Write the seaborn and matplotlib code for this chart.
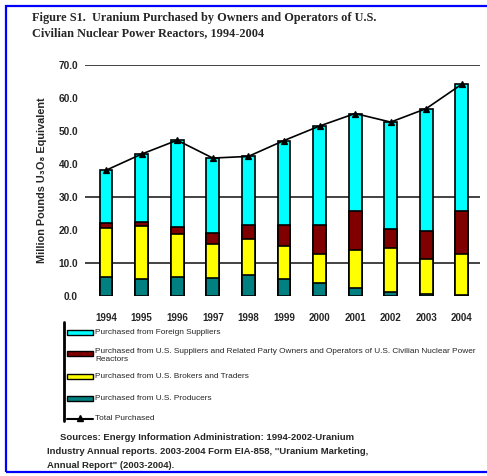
import numpy as np
import seaborn as sns
import matplotlib.pyplot as plt
from matplotlib.patches import Rectangle
from matplotlib.lines import Line2D

# ------------------------------------------------------------
# Data (million pounds U3O8 equivalent)
# ------------------------------------------------------------
years = ["1994", "1995", "1996", "1997", "1998", "1999",
         "2000", "2001", "2002", "2003", "2004"]
us_producers = [5.8, 5.3, 5.8, 5.5, 6.3, 5.3, 3.8, 2.5, 1.2, 0.7, 0.2]
us_brokers = [14.9, 15.9, 13.0, 10.2, 10.9, 9.8, 8.8, 11.4, 13.4, 10.4, 12.5]
us_other = [1.5, 1.1, 2.0, 3.3, 4.3, 6.4, 8.9, 11.9, 5.7, 8.6, 13.1]
foreign = [15.9, 20.7, 26.4, 22.8, 20.8, 25.6, 30.0, 29.5, 32.4, 37.1, 38.4]

legend_labels = [
    "Purchased from Foreign Suppliers",
    "Purchased from U.S. Suppliers and Related Party Owners and Operators of U.S. Civilian Nuclear Power\nReactors",
    "Purchased from U.S. Brokers and Traders",
    "Purchased from U.S. Producers",
    "Total Purchased",
]
colors = ["#00FFFF", "#800000", "#FFFF00", "#008080"]

# cumulative levels for the stacked bars
lvl1 = np.array(us_producers)
lvl2 = lvl1 + np.array(us_brokers)
lvl3 = lvl2 + np.array(us_other)
total = lvl3 + np.array(foreign)

sns.set_style("white")
plt.rcParams["font.family"] = ["Liberation Sans", "DejaVu Sans"]

W, H = 487, 476
fig = plt.figure(figsize=(W / 100, H / 100), dpi=100)
ax = fig.add_axes([85 / W, 1 - 296 / H, 395 / W, 231 / H])

def fx(px):
    return px / W

def fy(py):
    return 1 - py / H

# gridlines that show in the original
for g in [10, 30, 70]:
    ax.axhline(g, color="#222222", lw=1.2, zorder=0)

# stacked bars: tallest first, then overlay the lower stacks
for lvl, c in zip([total, lvl3, lvl2, lvl1], colors):
    sns.barplot(x=years, y=lvl, color=c, edgecolor="black", linewidth=1.2,
                width=0.36, saturation=1, ax=ax, zorder=2)

sns.pointplot(x=years, y=total, color="black", markers="^", linestyles="-",
              errorbar=None, markersize=5, linewidth=1.2, ax=ax, zorder=5)

ax.set_xlim(-0.59, 10.51)
ax.set_ylim(0, 70)
ax.set_yticks(np.arange(0, 71, 10))
ax.set_yticklabels([f"{v:.1f}" for v in np.arange(0, 71, 10)],
                   fontsize=7.3, fontweight="bold")
ax.set_xticks(range(len(years)))
ax.set_xticklabels(years, fontsize=7, fontweight="bold")
ax.set_xticks(np.arange(0.5, 10.6, 1), minor=True)
ax.tick_params(axis="x", which="major", length=0, pad=12)
ax.tick_params(axis="x", which="minor", length=3, width=1, color="black",
               direction="out")
ax.tick_params(axis="y", length=0, pad=5)
ax.set_xlabel("")
ax.set_ylabel("")
for s in ax.spines.values():
    s.set_visible(False)

fig.text(fx(42), fy(180), "Million Pounds U\u2083O\u2088 Equivalent",
         rotation=90, ha="center", va="center", fontsize=7.8, fontweight="bold")

# title
fig.text(fx(32), fy(12),
         "Figure S1.  Uranium Purchased by Owners and Operators of U.S.\n"
         "Civilian Nuclear Power Reactors, 1994-2004",
         ha="left", va="top", fontsize=8.8, fontweight="bold",
         family="Liberation Serif", linespacing=1.35)

# legend drawn by hand so the two-line entry sits like the original
fig.add_artist(Line2D([fx(64), fx(64)], [fy(322), fy(421)], color="black", lw=2))
entry_y = [332, 353, 376, 398]
for yy, c, lab in zip(entry_y, colors, legend_labels[:4]):
    fig.add_artist(Rectangle((fx(67), fy(yy + 2.5)), 26 / W, 5 / H,
                             facecolor=c, edgecolor="black", lw=1,
                             transform=fig.transFigure))
    if "\n" in lab:
        fig.text(fx(95), fy(348), lab, ha="left", va="top",
                 fontsize=5.95, linespacing=1.2)
    else:
        fig.text(fx(95), fy(yy), lab, ha="left", va="center", fontsize=5.95)
fig.add_artist(Line2D([fx(67), fx(93)], [fy(419), fy(419)], color="black", lw=1.5))
fig.add_artist(Line2D([fx(80)], [fy(418)], color="black", marker="^",
                      markersize=5, lw=0))
fig.text(fx(95), fy(419), legend_labels[4], ha="left", va="center", fontsize=5.95)

# source note
fig.text(fx(60), fy(437), "Sources: Energy Information Administration: 1994-2002-Uranium",
         ha="left", va="center", fontsize=6.8, fontweight="bold")
fig.text(fx(47), fy(451),
         "Industry Annual reports. 2003-2004 Form EIA-858, ''Uranium Marketing,",
         ha="left", va="center", fontsize=6.8, fontweight="bold")
fig.text(fx(47), fy(465), "Annual Report\" (2003-2004).",
         ha="left", va="center", fontsize=6.8, fontweight="bold")

# blue frame (runs off the right edge like the original)
fig.add_artist(Rectangle((fx(6), fy(472)), 500 / W, 466 / H, fill=False,
                         edgecolor="#0000FF", lw=1.6, transform=fig.transFigure))

fig.savefig("out.png", dpi=100)
